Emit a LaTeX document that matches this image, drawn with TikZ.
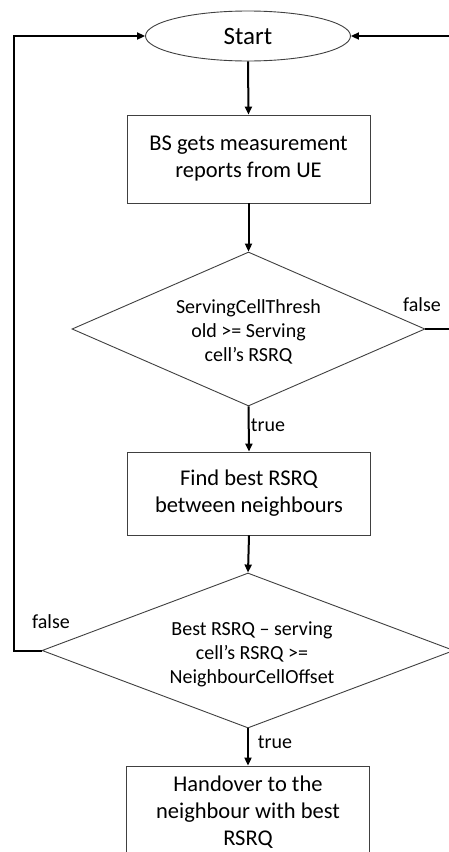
\documentclass[tikz,border=0pt]{standalone}
\usepackage{fontspec}
\setmainfont{Carlito}
\usetikzlibrary{shapes.geometric,arrows.meta}

\tikzset{
  shapeline/.style={draw=black!75, line width=0.9pt, fill=white},
  procbox/.style={shapeline, rectangle, minimum width=243pt, inner sep=0pt,
    align=center, font=\fontsize{22.5}{27}\selectfont},
  decision/.style={shapeline, diamond, inner sep=0pt},
  dectext/.style={align=center, font=\fontsize{20}{24}\selectfont},
  flow/.style={line width=2pt, draw=black,
    -{Triangle[length=8pt,width=7pt]}},
  plainflow/.style={line width=2pt, draw=black},
  branchlabel/.style={font=\fontsize{20}{24}\selectfont, inner sep=0pt}
}

\begin{document}
\begin{tikzpicture}[x=1pt,y=-1pt]
  \clip (0,0) rectangle (449,852);
  \fill[white] (0,0) rectangle (449,852);

  % start terminal
  \node[shapeline, ellipse, minimum width=205pt, minimum height=50pt, inner sep=0pt,
        font=\fontsize{25}{30}\selectfont] (start) at (248,36) {Start};

  % measurement step
  \node[procbox, minimum height=88pt] (meas) at (248.5,159)
    {BS gets measurement\\reports from UE};

  % first decision: serving-cell threshold
  \node[decision, minimum width=353pt, minimum height=154pt] (dec1) at (248.5,329) {};
  \node[dectext] (dec1t) at (248.5,332) {ServingCellThresh\\old >= Serving\\cell’s RSRQ};

  % best neighbour search
  \node[procbox, minimum height=83pt] (find) at (249,493.5)
    {Find best RSRQ\\between neighbours};

  % second decision: neighbour offset
  \node[decision, minimum width=412pt, minimum height=155pt] (dec2) at (248,650.5) {};
  \node[dectext] (dec2t) at (252,654) {Best RSRQ – serving\\cell’s RSRQ >=\\NeighbourCellOffset};

  % handover step
  \node[procbox, minimum height=92pt] (hand) at (248,812)
    {Handover to the\\neighbour with best\\RSRQ};

  % loop-back corner points
  \coordinate (lt) at (14,36);
  \coordinate (lb) at (14,650.5);
  \coordinate (rt) at (450.5,36);
  \coordinate (rb) at (450.5,329);

  % main flow
  \draw[flow] (start.south) -- (meas.north);
  \draw[flow] (meas.south) -- (dec1.north);
  \draw[flow] (dec1.south) -- (find.north);
  \draw[flow] (find.south) -- (dec2.north);
  \draw[flow] (dec2.south) -- (hand.north);

  % loops back to start
  \draw[flow] (dec1.east) -- (rb) -- (rt) -- (start.east);
  \draw[flow] (dec2.west) -- (lb) -- (lt) -- (start.west);

  % branch labels
  \node[branchlabel] (f1) at (422,305) {false};
  \node[branchlabel] (t1) at (268,425) {true};
  \node[branchlabel] (f2) at (51,622) {false};
  \node[branchlabel] (t2) at (275,742) {true};
\end{tikzpicture}
\end{document}
